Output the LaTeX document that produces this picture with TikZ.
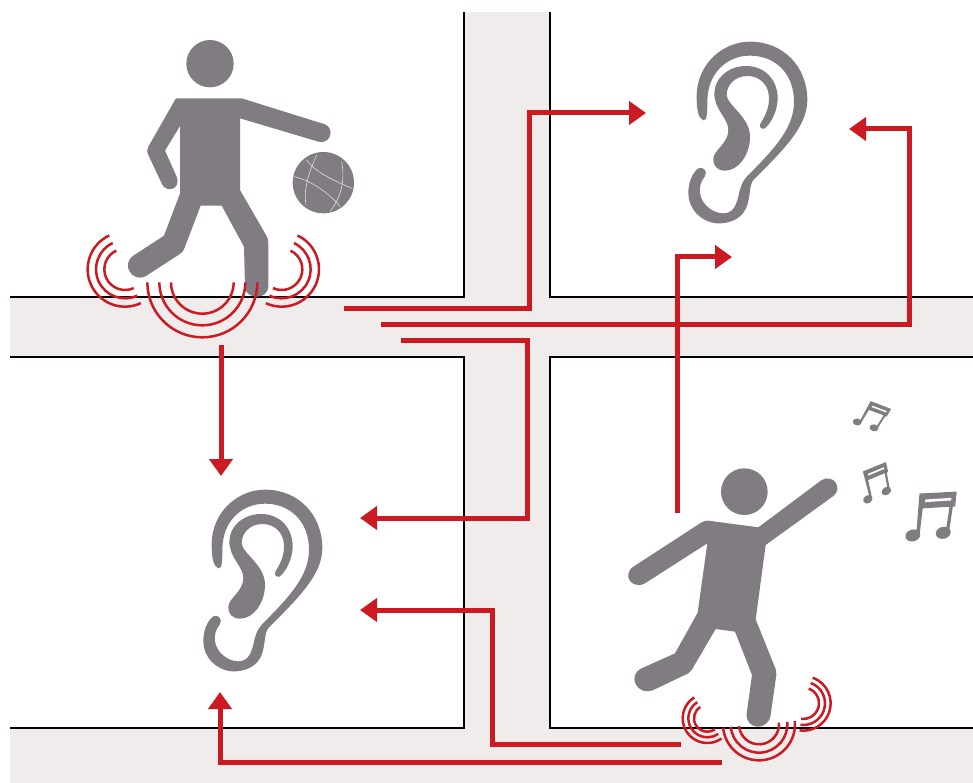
\documentclass[tikz,border=0pt]{standalone}
\usepackage{tikz}
\usetikzlibrary{arrows.meta}
\definecolor{Signal}{HTML}{CC1A22}
\definecolor{Figure}{HTML}{807C81}
\definecolor{Road}{HTML}{F0ECEB}

\begin{document}
\begin{tikzpicture}[x=1pt,y=-1pt,
    wall/.style={line width=2.4pt,black},
    wire/.style={-{Triangle[length=17pt,width=23pt]},line width=5pt,Signal},
    wave/.style={line width=2.5pt,Signal},
    body/.style={fill=Figure},
    ear/.pic={
      \fill[body] (100,271) .. controls (85,265) and (80,240) .. (80,200)
        .. controls (80,100) and (160,35) .. (240,35)
        .. controls (340,35) and (412,110) .. (412,210)
        .. controls (412,290) and (340,360) .. (252,448)
        .. controls (238,462) and (242,490) .. (232,525)
        .. controls (220,565) and (180,582) .. (140,580)
        .. controls (90,575) and (55,535) .. (55,490)
        .. controls (55,460) and (65,430) .. (85,415)
        .. controls (100,408) and (115,425) .. (104,440)
        .. controls (92,455) and (88,470) .. (90,490)
        .. controls (95,525) and (130,550) .. (160,550)
        .. controls (190,550) and (198,525) .. (205,500)
        .. controls (210,475) and (215,455) .. (235,435)
        .. controls (320,350) and (372,290) .. (372,215)
        .. controls (372,130) and (315,77) .. (240,77)
        .. controls (170,77) and (112,130) .. (112,215)
        .. controls (112,240) and (112,275) .. (100,271) -- cycle;
      \fill[body] (278,296) .. controls (268,295) and (268,285) .. (273,278)
        .. controls (290,250) and (297,230) .. (297,205)
        .. controls (297,165) and (270,138) .. (232,138)
        .. controls (195,138) and (170,165) .. (170,195)
        .. controls (170,225) and (240,260) .. (240,320)
        .. controls (240,375) and (205,422) .. (165,422)
        .. controls (140,422) and (128,405) .. (130,385)
        .. controls (132,360) and (175,340) .. (175,300)
        .. controls (175,265) and (133,240) .. (133,190)
        .. controls (133,145) and (175,108) .. (228,108)
        .. controls (285,108) and (323,150) .. (323,205)
        .. controls (323,240) and (305,275) .. (290,290)
        .. controls (285,296) and (282,297) .. (278,296) -- cycle;
    },
    notes/.pic={
      \fill[body] (-37,-62) -- (76,-68) -- (71,-22) -- (64,-22) -- (52,58) -- (42,58) -- (54,-22) -- (-27,-17) -- (-37,65) -- (-47,65) -- cycle;
      \fill[white] (-19,-44) -- (60,-49) -- (59,-41) -- (-20,-36) -- cycle;
      \fill[body,rotate around={15:(-57,65)}] (-57,65) ellipse (23 and 18);
      \fill[body,rotate around={15:(35,57)}] (35,57) ellipse (23 and 18);
    }]
  \useasboundingbox (0,0) rectangle (973,783);
  \fill[Road] (464,12) -- (550,12) -- (550,297) -- (973,297) -- (973,357) -- (550,357) -- (550,728) -- (973,728) -- (973,783) -- (10,783) -- (10,728) -- (464,728) -- (464,357) -- (10,357) -- (10,297) -- (464,297) -- cycle;
  \draw[wall] (10,297) -- (464,297) -- (464,12);
  \draw[wall] (550,12) -- (550,297) -- (973,297);
  \draw[wall] (10,357) -- (464,357) -- (464,728) -- (10,728);
  \draw[wall] (973,357) -- (550,357) -- (550,728) -- (973,728);

  \begin{scope}[shift={(70,30)},scale=1/3]
    \fill[body] (420,101) circle (71);
    \fill[body] (320,205) -- (515,205) -- (765,283) .. controls (795,295) and (782,345) .. (745,335) -- (510,265) -- (510,480) -- (588,615) .. controls (594,625) and (595,630) .. (595,640) -- (595,770) .. controls (595,810) and (525,810) .. (525,770) -- (522,650) -- (455,527) -- (392,527) -- (345,650) .. controls (340,665) and (335,670) .. (325,675) -- (228,738) .. controls (190,760) and (150,705) .. (190,677) -- (282,617) -- (330,490) -- (330,288) -- (285,362) -- (320,440) .. controls (335,480) and (285,490) .. (275,460) -- (235,375) .. controls (230,365) and (231,358) .. (235,350) -- (312,215) .. controls (315,208) and (318,205) .. (320,205) -- cycle;
    \fill[body] (760,458) circle (92);
    \draw[white!75!Figure,line width=.6pt] (740,375) .. controls (715,430) and (700,480) .. (708,525);
    \draw[white!75!Figure,line width=.6pt] (815,395) .. controls (825,450) and (815,500) .. (780,545);
    \draw[white!75!Figure,line width=.6pt] (710,390) .. controls (740,430) and (790,450) .. (845,475);
    \draw[white!75!Figure,line width=.6pt] (672,440) .. controls (720,450) and (780,490) .. (810,530);
    \foreach \cx/\cy/\from/\to/\ra/\rb/\rc in {165/718/245/65/62/87/112,635/718/-65/115/62/87/112,397/757/180/0/94/129/165}
      \foreach \r in {\ra,\rb,\rc}
        \draw[wave] (\cx,\cy) ++(\from:\r) arc (\from:\to:\r);
  \end{scope}

  \begin{scope}[shift={(620,390)},scale=1/3]
    \fill[body] (373,305) circle (70);
    \fill[body] (265,392) -- (415,412) -- (605,270) .. controls (640,250) and (670,295) .. (640,318) -- (437,465) -- (407,688) -- (468,840) .. controls (470,848) and (470,850) .. (469,855) -- (452,975) .. controls (445,1025) and (375,1020) .. (380,970) -- (396,855) -- (345,725) -- (287,717) -- (222,828) .. controls (217,838) and (212,845) .. (205,850) -- (100,900) .. controls (50,920) and (20,855) .. (65,835) -- (165,790) -- (233,668) -- (262,460) -- (75,580) .. controls (35,600) and (5,555) .. (40,530) -- (245,397) .. controls (252,393) and (258,391) .. (265,392) -- cycle;
    \foreach \cx/\cy/\from/\to/\ra/\rb/\rc in {262/985/238/55/40/57/74,550/940/-70/98/47/65/82,417/1003/175/-5/60/85/108}
      \foreach \r in {\ra,\rb,\rc}
        \draw[wave] (\cx,\cy) ++(\from:\r) arc (\from:\to:\r);
    \pic[transform shape,scale=.99] at (935,372) {notes};
    \pic[transform shape,scale=.66,rotate=19] at (765,275) {notes};
    \pic[transform shape,scale=.58,rotate=-24] at (757,75) {notes};
  \end{scope}

  \pic[transform shape,scale=1/3] (earright) at (670,30) {ear};
  \pic[transform shape,scale=1/3] (earleft) at (185,478) {ear};

  \coordinate (a1) at (344,308);
  \coordinate (a2) at (381,324);
  \coordinate (a3) at (401,340);
  \coordinate (a4) at (221,345);
  \coordinate (a5) at (677,513);
  \coordinate (a6) at (681,744);
  \coordinate (a7) at (722,762);
  \coordinate (b1) at (646,113);
  \coordinate (b2) at (849,129);
  \coordinate (b3) at (360,518);
  \coordinate (b4) at (221,476);
  \coordinate (b5) at (732,257);
  \coordinate (b6) at (360,610);
  \coordinate (b7) at (220,692);
  \draw[wire] (a1) -- (529,308) -- (529,113) -- (b1);
  \draw[wire] (a2) -- (909,324) -- (909,129) -- (b2);
  \draw[wire] (a3) -- (527,340) -- (527,518) -- (b3);
  \draw[wire] (a4) -- (b4);
  \draw[wire] (a5) -- (677,257) -- (b5);
  \draw[wire] (a6) -- (492,744) -- (492,610) -- (b6);
  \draw[wire] (a7) -- (220,762) -- (b7);
\end{tikzpicture}
\end{document}
